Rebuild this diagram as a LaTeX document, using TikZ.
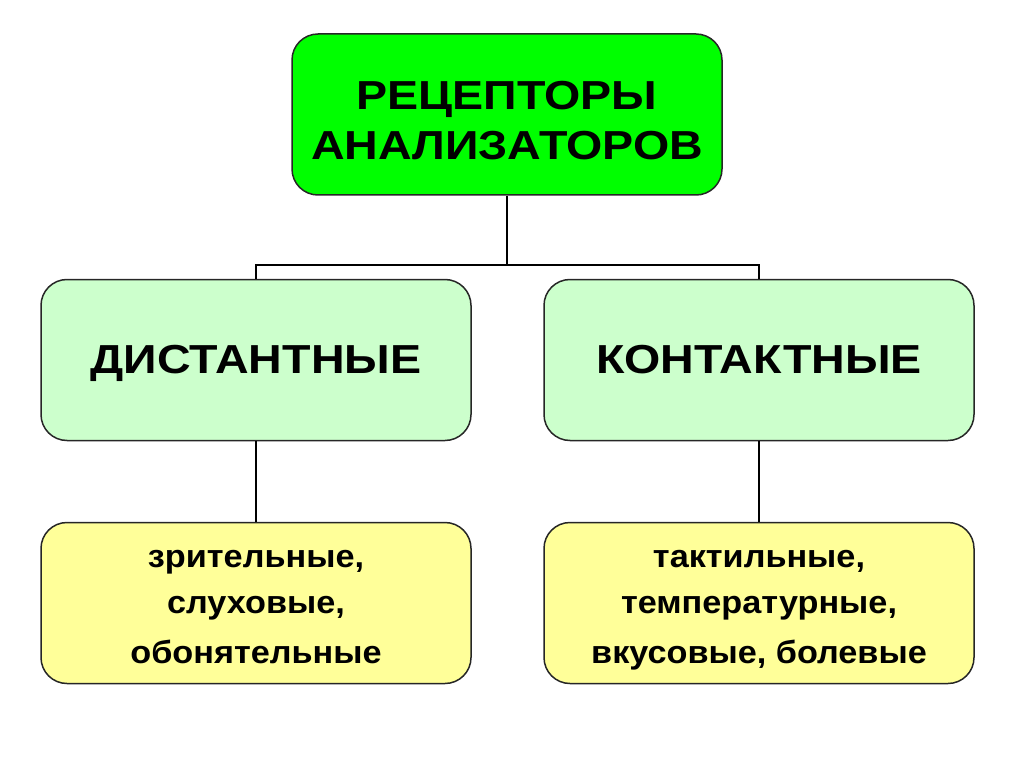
\documentclass[tikz,border=0pt]{standalone}
\usepackage{fontspec}
\setmainfont[FakeStretch=1.07]{Liberation Sans}
\newfontfamily\capsfont[FakeStretch=1.15]{Liberation Sans}
\usetikzlibrary{positioning}

\definecolor{topgreen}{HTML}{00FF00}
\definecolor{midgreen}{HTML}{CCFFCC}
\definecolor{lowyellow}{HTML}{FFFF99}

\tikzset{
  box/.style={draw=black!85, line width=1.5pt, rounded corners=26pt,
    minimum width=430pt, minimum height=161pt, align=center,
    font=\capsfont\bfseries\fontsize{40.5}{50}\selectfont},
  mainbox/.style={box, fill=topgreen},
  kindbox/.style={box, fill=midgreen, text height=26pt, text depth=0pt},
  listbox/.style={box, fill=lowyellow, font=\bfseries\fontsize{32}{46}\selectfont},
  link/.style={line width=2.7pt}
}

\begin{document}
\begin{tikzpicture}[x=1pt,y=-1pt]

  % frame
  \useasboundingbox (0,0) rectangle (1024,767);

  % top
  \node[mainbox] (rec) at (507,114.5) {\rule{0pt}{41pt}РЕЦЕПТОРЫ\\АНАЛИЗАТОРОВ};

  % two kinds
  \node[kindbox] (dist) at (256,360) {ДИСТАНТНЫЕ};
  \node[kindbox] (kont) at (759,360) {КОНТАКТНЫЕ};

  % lists
  \node[listbox] (distlist) at (256,603)
    {\rule{0pt}{38pt}зрительные,\\слуховые,\\[4pt]обонятельные\rule[-14pt]{0pt}{14pt}};
  \node[listbox] (kontlist) at (759,603)
    {\rule{0pt}{38pt}тактильные,\\температурные,\\[4pt]вкусовые, болевые\rule[-14pt]{0pt}{14pt}};

  % connectors
  \coordinate (split) at (507,265);
  \draw[link] (rec.south) -- (split);
  \draw[link] (dist.north) |- (split) -| (kont.north);
  \draw[link] (dist.south) -- (distlist.north);
  \draw[link] (kont.south) -- (kontlist.north);

\end{tikzpicture}
\end{document}
